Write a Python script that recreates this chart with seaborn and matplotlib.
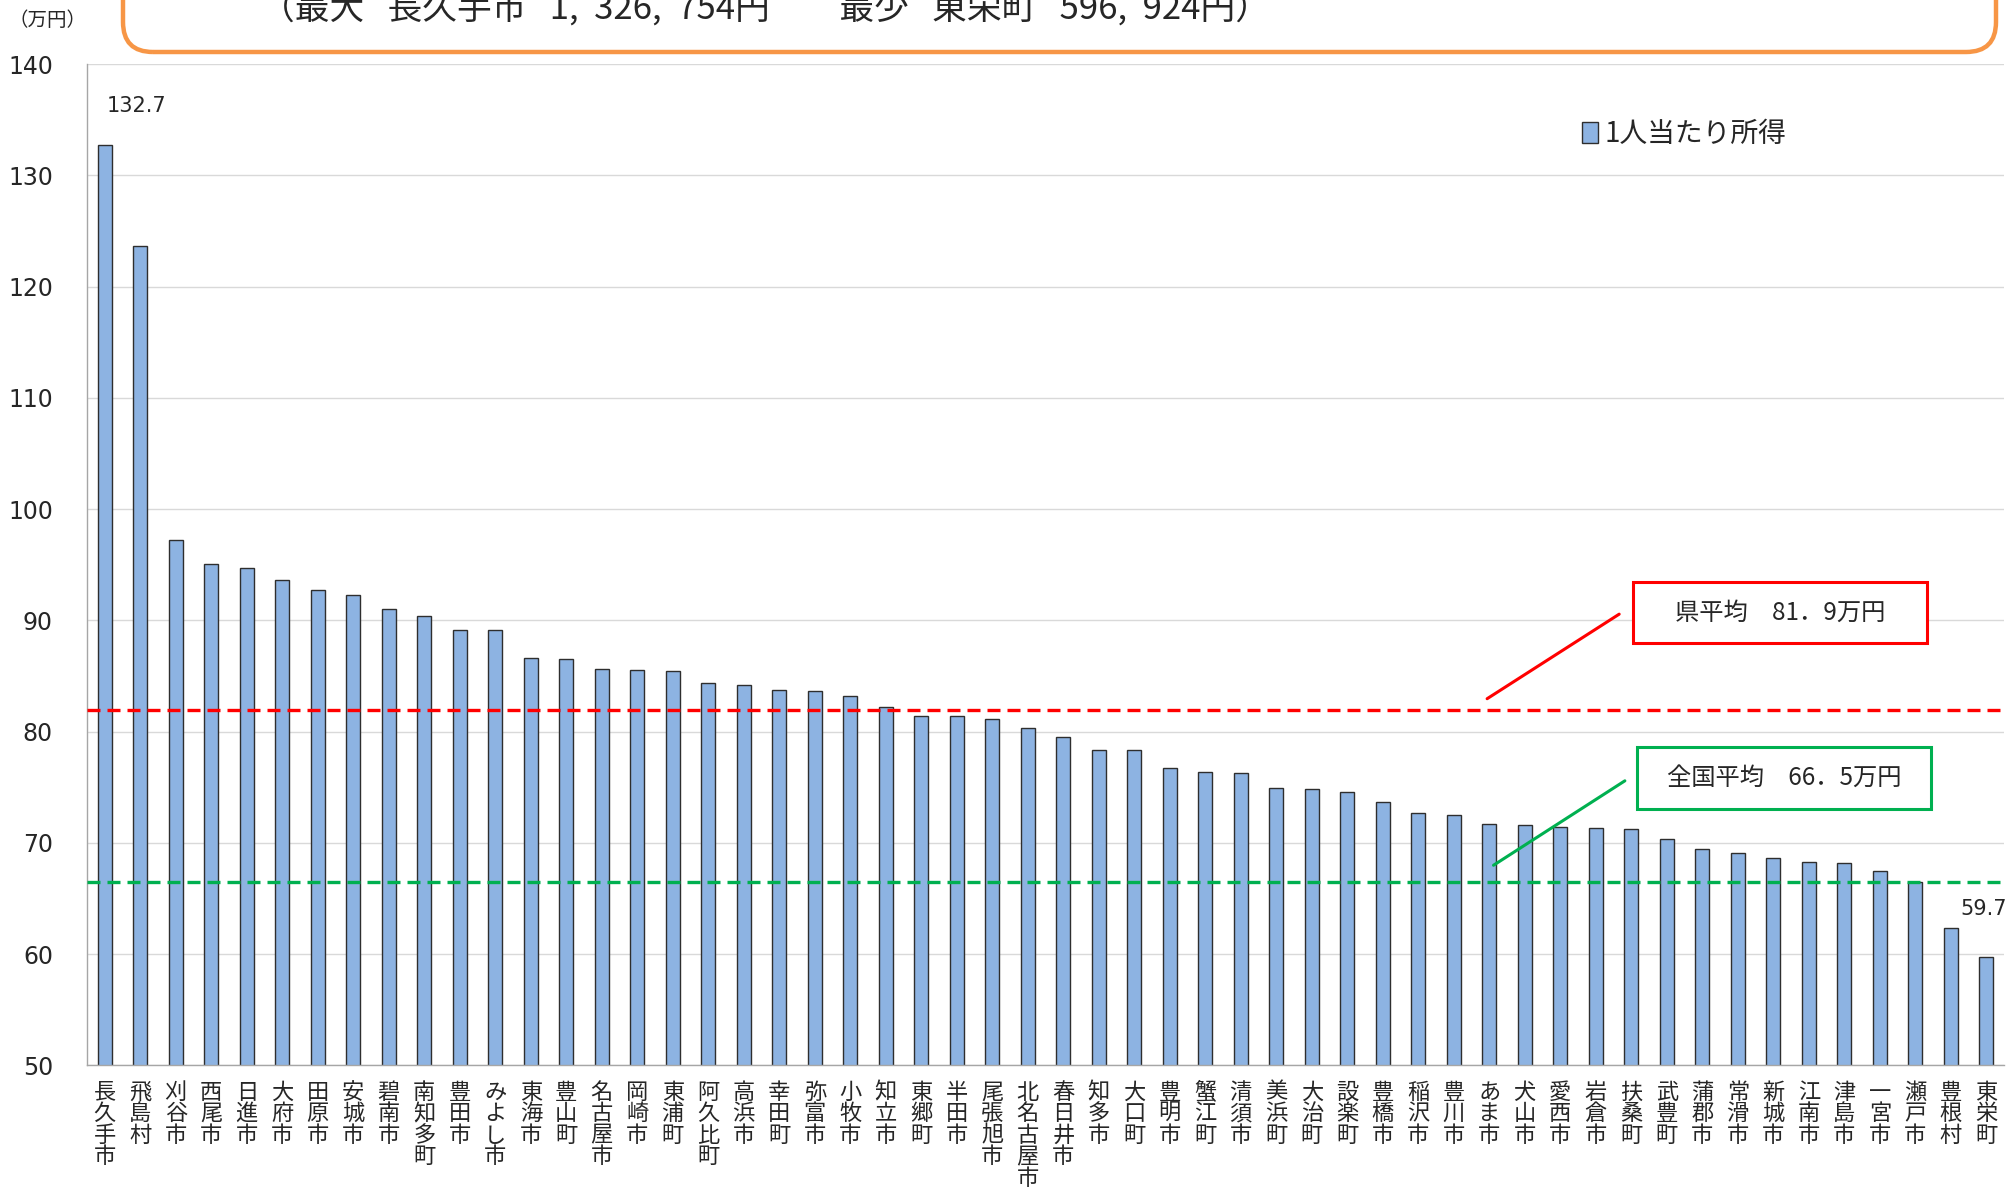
import matplotlib
matplotlib.use("Agg")
import matplotlib.pyplot as plt
from matplotlib.patches import FancyBboxPatch, Rectangle
import numpy as np
import pandas as pd
import seaborn as sns

# 市町村名と1人当たり所得（万円）
names = ["長久手市", "飛島村", "刈谷市", "西尾市", "日進市", "大府市", "田原市", "安城市",
         "碧南市", "南知多町", "豊田市", "みよし市", "東海市", "豊山町", "名古屋市", "岡崎市",
         "東浦町", "阿久比町", "高浜市", "幸田町", "弥富市", "小牧市", "知立市", "東郷町",
         "半田市", "尾張旭市", "北名古屋市", "春日井市", "知多市", "大口町", "豊明市", "蟹江町",
         "清須市", "美浜町", "大治町", "設楽町", "豊橋市", "稲沢市", "豊川市", "あま市",
         "犬山市", "愛西市", "岩倉市", "扶桑町", "武豊町", "蒲郡市", "常滑市", "新城市",
         "江南市", "津島市", "一宮市", "瀬戸市", "豊根村", "東栄町"]
income = [132.7, 123.6, 97.2, 95.1, 94.7, 93.6, 92.7, 92.3, 91.0, 90.4, 89.1, 89.1,
          86.6, 86.5, 85.6, 85.5, 85.4, 84.4, 84.2, 83.7, 83.6, 83.2, 82.2, 81.4,
          81.4, 81.1, 80.3, 79.5, 78.3, 78.3, 76.7, 76.4, 76.3, 74.9, 74.8, 74.6,
          73.7, 72.7, 72.5, 71.7, 71.6, 71.4, 71.3, 71.2, 70.3, 69.4, 69.1, 68.6,
          68.3, 68.2, 67.5, 66.5, 62.3, 59.7]
pref_avg = 81.9
nat_avg = 66.5
y_ticks = [50, 60, 70, 80, 90, 100, 110, 120, 130, 140]
title_text = "（最大   長久手市   1,  326,  754円　　最少   東栄町   596,  924円）"

sns.set_style("white")
plt.rcParams['font.family'] = ['Noto Sans CJK JP', 'DejaVu Sans']

df = pd.DataFrame({"name": names, "income": income})

fig = plt.figure(figsize=(20.1, 11.88), dpi=100)
ax = fig.add_axes([87 / 2010, 1 - 1065.3 / 1188, 1917 / 2010, 1001.3 / 1188])

sns.barplot(data=df, x="name", y="income", color="#8db3e2", width=0.4,
            edgecolor="#2e2e2e", linewidth=1.0, saturation=1, label="1人当たり所得",
            ax=ax, zorder=2)

ax.set_xlim(-0.5, len(names) - 0.5)
ax.set_ylim(50, 140)
ax.set_yticks(y_ticks)
ax.set_yticklabels([str(t) for t in y_ticks], fontfamily="DejaVu Sans", fontsize=17)
ax.yaxis.grid(True, color="#d9d9d9", linewidth=1.0, zorder=0)
ax.set_axisbelow(True)
ax.set_xlabel("")
ax.set_ylabel("")

# 縦書きラベル
ax.set_xticks(range(len(names)))
ax.set_xticklabels(["\n".join(n) for n in names], fontsize=16, linespacing=0.92,
                   va="top")
ax.set_xticks(np.arange(-0.5, len(names), 1), minor=True)
ax.tick_params(axis="x", which="major", length=0, pad=11)
ax.tick_params(axis="x", which="minor", length=6.5, color="#a6a6a6", width=1, direction="out")
ax.tick_params(axis="y", length=6.5, color="#a6a6a6", width=1, direction="out", pad=18)

for side in ["top", "right"]:
    ax.spines[side].set_visible(False)
for side in ["left", "bottom"]:
    ax.spines[side].set_color("#a6a6a6")
    ax.spines[side].set_linewidth(1.0)

# 平均線
ax.axhline(pref_avg, color="#ff0000", linestyle=(0, (3.9, 2.1)), linewidth=2.4, zorder=3)
ax.axhline(nat_avg, color="#00b050", linestyle=(0, (3.9, 2.1)), linewidth=2.4, zorder=3)

# 注記ボックス
ax.plot([38.94, 42.66], [82.95, 90.55], color="#ff0000", linewidth=2.2, zorder=4)
ax.add_patch(Rectangle((43.05, 87.95), 8.28, 5.48, facecolor="white",
                       edgecolor="#ff0000", linewidth=2.2, zorder=4))
ax.text(47.19, 90.69, "県平均　81．9万円", ha="center", va="center", fontsize=17.5, zorder=5)

ax.plot([39.12, 42.82], [67.98, 75.57], color="#00b050", linewidth=2.2, zorder=4)
ax.add_patch(Rectangle((43.16, 73.05), 8.28, 5.56, facecolor="white",
                       edgecolor="#00b050", linewidth=2.2, zorder=4))
ax.text(47.3, 75.83, "全国平均　66．5万円", ha="center", va="center", fontsize=17.5, zorder=5)

# 最大・最小の値ラベル
ax.annotate(f"{income[0]:.1f}", (0, income[0]), xytext=(23, 28), textcoords="offset points",
            ha="center", va="center", fontsize=15, fontfamily="DejaVu Sans")
ax.annotate(f"{income[-1]:.1f}", (len(names) - 1, income[-1]), xytext=(-2, 35),
            textcoords="offset points", ha="center", va="center", fontsize=15,
            fontfamily="DejaVu Sans")

leg = ax.legend(loc="center left", bbox_to_anchor=(0.78, 0.93), frameon=False,
                fontsize=20, handlelength=0.55, handleheight=0.8, handletextpad=0.25,
                borderpad=0, borderaxespad=0)

# 単位と見出しボックス
fig.text(47 / 2010, 1 - 21 / 1188, "（万円）", ha="center", va="center", fontsize=14)
fig.add_artist(FancyBboxPatch((1.23, 11.36), 18.73, 1.2,
                              boxstyle="round,pad=0,rounding_size=0.3",
                              transform=fig.dpi_scale_trans, facecolor="none",
                              edgecolor="#f79646", linewidth=3.2))
fig.text(765 / 2010, 1 - 10 / 1188, title_text, ha="center", va="center", fontsize=25)

fig.savefig("out.png", dpi=100)
